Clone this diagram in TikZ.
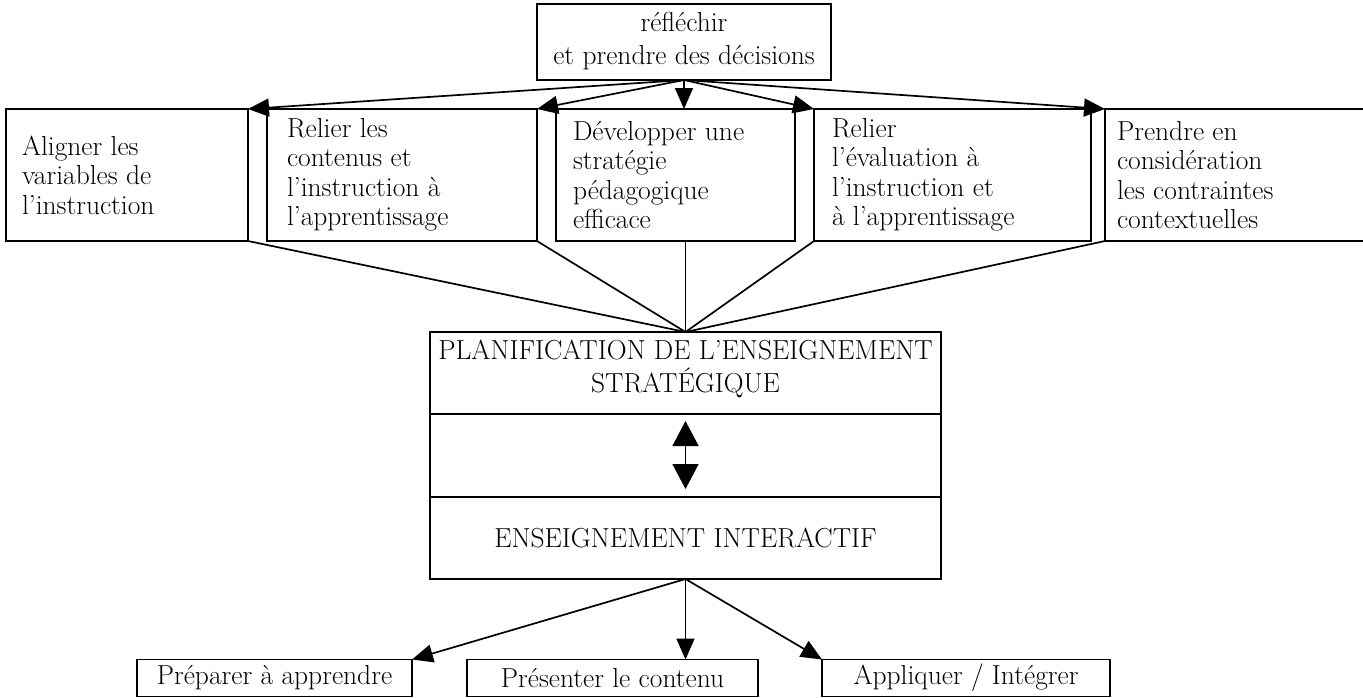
\documentclass[tikz,border=0pt]{standalone}
\usetikzlibrary{arrows.meta}
\begin{document}
\begin{tikzpicture}[x=1pt,y=-1pt,
  every node/.style={inner sep=0pt, outer sep=0pt},
  box/.style={draw, line width=1.8pt},
  txt/.style={font=\fontsize{27.5}{29.5}\selectfont},
  ltxt/.style={txt, align=left, anchor=west},
  ctxt/.style={font=\fontsize{27.5}{32.5}\selectfont, align=center},
  arr/.style={-{Triangle[length=21pt,width=18pt]}, line width=1.7pt},
  ln/.style={line width=1.7pt}]
\useasboundingbox (0,0) rectangle (1363,697);
% top box
\node[box, minimum width=294, minimum height=76] (top) at (684,42) {};
\node[ctxt] (toptxt) at (684,41) {réfléchir\\et prendre des décisions};
% row of boxes
\node[box, minimum width=242, minimum height=132] (b1) at (127,175) {};
\node[box, minimum width=270, minimum height=132] (b2) at (402,175) {};
\node[box, minimum width=239, minimum height=132] (b3) at (675.5,175) {};
\node[box, minimum width=277, minimum height=132] (b4) at (952.5,175) {};
\node[box, minimum width=275, minimum height=132] (b5) at (1242.5,175) {};
\node[ltxt] (t1) at ([xshift=16pt]b1.west) {Aligner les\\variables de\\l'instruction};
\node[ltxt] (t2) at ([xshift=20pt]b2.west) {Relier les\\contenus et\\l'instruction à\\l'apprentissage};
\node[ltxt] (t3) at ([xshift=17pt]b3.west) {Développer une\\stratégie\\pédagogique\\efficace};
\node[ltxt] (t4) at ([xshift=18pt]b4.west) {Relier\\l'évaluation à\\l'instruction et\\à l'apprentissage};
\node[ltxt] (t5) at ([xshift=12pt]b5.west) {Prendre en\\considération\\les contraintes\\contextuelles};
% arrows from top box
\draw[arr] (top.south) -- (b1.north east);
\draw[arr] (top.south) -- (b2.north east);
\draw[arr] (top.south) -- (top.south |- b3.north);
\draw[arr] (top.south) -- (b4.north west);
\draw[arr] (top.south) -- (b5.north west);
% middle box
\node[box, minimum width=511, minimum height=82] (m1) at (685.5,373) {};
\node[box, minimum width=511, minimum height=83] (m2) at (685.5,455.5) {};
\node[box, minimum width=511, minimum height=82] (m3) at (685.5,538) {};
\node[ctxt] (mt1) at (685.5,369) {PLANIFICATION DE L'ENSEIGNEMENT\\STRATÉGIQUE};
\node[ctxt] (mt3) at (685.5,538) {ENSEIGNEMENT INTERACTIF};
\coordinate (da1) at (685.5,421);
\coordinate (da2) at (685.5,489);
\draw[{Triangle[length=25pt,width=26pt]}-{Triangle[length=25pt,width=26pt]}, line width=1.7pt] (da1) -- (da2);
% lines from row to middle
\draw[ln] (b1.south east) -- (m1.north);
\draw[ln] (b2.south east) -- (m1.north);
\draw[ln] (m1.north |- b3.south) -- (m1.north);
\draw[ln] (b4.south west) -- (m1.north);
\draw[ln] (b5.south west) -- (m1.north);
% bottom boxes
\node[box, minimum width=275, minimum height=37] (c1) at (274.5,678) {};
\node[box, minimum width=291, minimum height=37] (c2) at (612.5,678) {};
\node[box, minimum width=288, minimum height=37] (c3) at (966,678) {};
\node[txt] (ct1) at (c1) {Préparer à apprendre};
\node[txt] (ct2) at (c2) {Présenter le contenu};
\node[txt] (ct3) at (c3) {Appliquer / Intégrer};
\draw[arr] (m3.south) -- (c1.north east);
\draw[arr] (m3.south) -- (m3.south |- c2.north);
\draw[arr] (m3.south) -- (c3.north west);
\end{tikzpicture}
\end{document}
